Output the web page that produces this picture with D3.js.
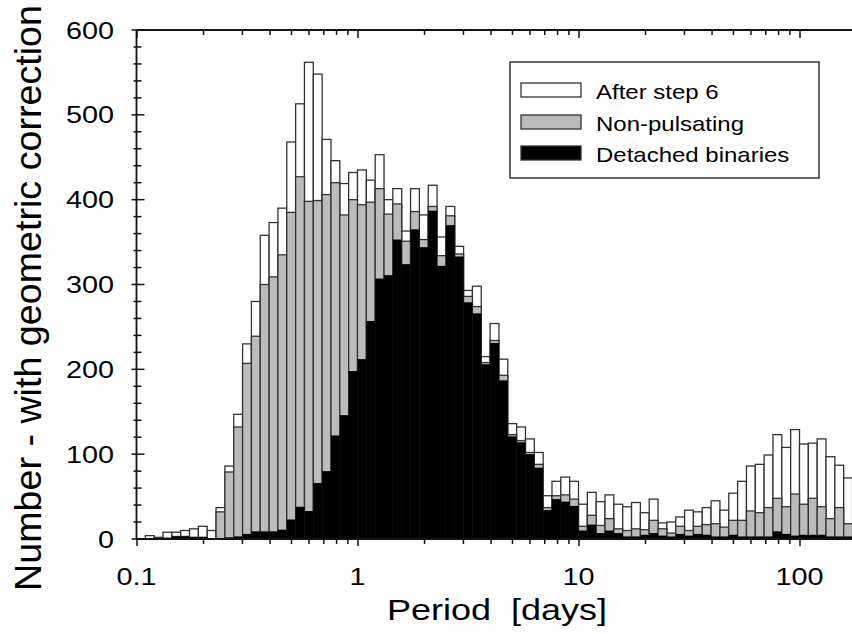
<!DOCTYPE html>
<html>
<head>
<meta charset="utf-8">
<script src="https://cdn.jsdelivr.net/npm/d3@7"></script>
<style>
  html, body { margin: 0; padding: 0; background: #fff; }
  svg { display: block; font-family: "Liberation Sans", Arial, sans-serif; }
  text { white-space: pre; }
</style>
</head>
<body>
<svg id="chart" width="852" height="634"></svg>
<script>
// Period histogram, equal bins in log(P): 25 per decade starting at 0.1 d
const logStart = -1;
const binsPerDecade = 25;

// counts per bin
const afterStep6 = [
  0, 4, 2, 8, 8, 10, 12, 15, 10, 37,
  86, 147, 230, 280, 358, 373, 390, 468, 513, 562,
  548, 471, 446, 419, 432, 435, 423, 453, 400, 413,
  363, 413, 382, 417, 356, 392, 345, 293, 298, 215,
  254, 212, 136, 132, 118, 102, 51, 68, 73, 68,
  41, 55, 44, 52, 41, 38, 43, 31, 47, 19,
  20, 26, 34, 32, 37, 45, 34, 54, 68, 86,
  88, 99, 123, 108, 129, 112, 113, 118, 97, 87, 72
];
const nonPulsating = [
  0, 0, 0, 1, 3, 3, 2, 2, 0, 32,
  79, 132, 207, 239, 300, 309, 335, 385, 427, 398,
  399, 406, 420, 382, 400, 394, 397, 413, 383, 395,
  351, 386, 353, 392, 334, 381, 336, 286, 274, 208,
  234, 193, 123, 116, 102, 88, 37, 51, 52, 47,
  15, 28, 16, 24, 12, 10, 12, 11, 22, 12,
  7, 15, 10, 15, 17, 18, 14, 22, 22, 33,
  31, 37, 48, 38, 53, 41, 48, 38, 24, 37, 18
];
const detachedBinaries = [
  0, 0, 0, 1, 3, 3, 2, 2, 0, 0,
  2, 3, 6, 9, 9, 9, 11, 23, 38, 33,
  66, 80, 122, 146, 198, 212, 257, 307, 311, 353,
  324, 365, 344, 387, 322, 370, 333, 279, 266, 206,
  231, 187, 121, 114, 100, 84, 34, 47, 44, 39,
  10, 17, 7, 10, 7, 3, 3, 5, 7, 4,
  3, 6, 4, 6, 5, 3, 3, 5, 3, 3,
  3, 3, 9, 6, 4, 5, 5, 5, 3, 3, 3
];

const xTickValues = [0.1, 1, 10, 100];
const xTickLabels = ['0.1', '1', '10', '100'];
const yTickValues = [0, 100, 200, 300, 400, 500, 600];

const series = [
  { name: 'After step 6', values: afterStep6, fill: '#ffffff' },
  { name: 'Non-pulsating', values: nonPulsating, fill: '#bbbbbb' },
  { name: 'Detached binaries', values: detachedBinaries, fill: '#000000' }
];

const svg = d3.select('#chart');
const W = 852, H = 634;
const plotLeft = 136.5, plotTop = 30, plotBottom = 539;
const decade = 221;
const stretch = 1.2; // the lettering in the figure is drawn wide

svg.append('rect').attr('width', W).attr('height', H).attr('fill', '#fff');

const x = d3.scaleLog().domain([0.1, 1000]).range([plotLeft, plotLeft + 4 * decade]);
const y = d3.scaleLinear().domain([0, 600]).range([plotBottom, plotTop]);

const binLo = i => Math.pow(10, logStart + i / binsPerDecade);
const binHi = i => Math.pow(10, logStart + (i + 1) / binsPerDecade);

// bars, overlapped from the baseline: total, then subsets on top
series.forEach((s, si) => {
  svg.append('g')
    .selectAll('rect')
    .data(s.values)
    .join('rect')
    .attr('x', (d, i) => x(binLo(i)))
    .attr('width', (d, i) => x(binHi(i)) - x(binLo(i)))
    .attr('y', d => y(d))
    .attr('height', d => y(0) - y(d))
    .attr('fill', s.fill)
    .attr('stroke', si === 2 ? 'none' : '#333')
    .attr('stroke-width', 1.3)
    .attr('display', d => d > 0 ? null : 'none');
});

// minor tick positions within the visible range
const minorX = [];
for (let e = -1; e <= 2; e++) {
  for (let m = 2; m <= 9; m++) {
    const v = m * Math.pow(10, e);
    if (v <= 200) minorX.push(v);
  }
}

const axisColor = '#111';

// bottom axis: outward ticks
const gb = svg.append('g').attr('transform', `translate(0,${plotBottom})`);
gb.append('g').call(d3.axisBottom(x).tickValues(minorX).tickSize(5).tickFormat(''));
gb.append('g').call(d3.axisBottom(x).tickValues(xTickValues).tickSize(7).tickFormat(''));
gb.selectAll('.domain').remove();
gb.selectAll('line').attr('stroke', axisColor).attr('stroke-width', 1.5);
svg.append('line').attr('x1', plotLeft).attr('x2', W).attr('y1', plotBottom).attr('y2', plotBottom)
  .attr('stroke', axisColor).attr('stroke-width', 1.8);

// x tick labels
svg.append('g').selectAll('text')
  .data(xTickValues)
  .join('text')
  .attr('transform', d => `translate(${x(d)},584.5) scale(${stretch},1)`)
  .attr('text-anchor', 'middle')
  .attr('font-size', 24)
  .attr('fill', '#000')
  .text((d, i) => xTickLabels[i]);

// top axis: inward ticks
const gt = svg.append('g').attr('transform', `translate(0,${plotTop})`);
gt.append('g').call(d3.axisBottom(x).tickValues(minorX).tickSize(5).tickFormat(''));
gt.append('g').call(d3.axisBottom(x).tickValues(xTickValues).tickSize(8).tickFormat(''));
gt.selectAll('.domain').remove();
gt.selectAll('line').attr('stroke', axisColor).attr('stroke-width', 1.5);
svg.append('line').attr('x1', plotLeft).attr('x2', W).attr('y1', plotTop).attr('y2', plotTop)
  .attr('stroke', axisColor).attr('stroke-width', 1.8);

// left axis: ticks crossing the line
const minorY = d3.range(0, 601, 20).filter(v => v % 100 !== 0);
const gl = svg.append('g');
gl.selectAll('line.minor')
  .data(minorY)
  .join('line')
  .attr('class', 'minor')
  .attr('x1', plotLeft - 3).attr('x2', plotLeft + 5)
  .attr('y1', d => y(d)).attr('y2', d => y(d));
gl.selectAll('line.major')
  .data(yTickValues)
  .join('line')
  .attr('class', 'major')
  .attr('x1', plotLeft - 5).attr('x2', plotLeft + 8)
  .attr('y1', d => y(d)).attr('y2', d => y(d));
gl.selectAll('line').attr('stroke', axisColor).attr('stroke-width', 1.5);
svg.append('line').attr('x1', plotLeft).attr('x2', plotLeft).attr('y1', plotTop).attr('y2', plotBottom)
  .attr('stroke', axisColor).attr('stroke-width', 1.8);

svg.append('g').selectAll('text')
  .data(yTickValues)
  .join('text')
  .attr('transform', d => `translate(114,${y(d) + 8.6}) scale(${stretch},1)`)
  .attr('text-anchor', 'end')
  .attr('font-size', 24)
  .attr('fill', '#000')
  .text(d => d);

// axis titles
svg.append('text')
  .attr('transform', `translate(497,620) scale(${stretch},1)`)
  .attr('text-anchor', 'middle')
  .attr('font-size', 30)
  .attr('fill', '#000')
  .text('Period  [days]');

svg.append('text')
  .attr('transform', `translate(41,298) rotate(-90) scale(1,${stretch})`)
  .attr('text-anchor', 'middle')
  .attr('font-size', 31)
  .attr('textLength', 586)
  .attr('lengthAdjust', 'spacingAndGlyphs')
  .attr('fill', '#000')
  .text('Number - with geometric correction');

// legend
const legend = svg.append('g');
legend.append('rect')
  .attr('x', 510).attr('y', 62).attr('width', 309).attr('height', 116)
  .attr('fill', '#fff').attr('stroke', '#333').attr('stroke-width', 1.5);
const rowY = [83, 115, 146];
const rows = legend.selectAll('g.row')
  .data(series)
  .join('g')
  .attr('class', 'row')
  .attr('transform', (d, i) => `translate(0,${rowY[i]})`);
rows.append('rect')
  .attr('x', 521).attr('width', 60).attr('height', 14)
  .attr('fill', d => d.fill).attr('stroke', '#333').attr('stroke-width', 1.3);
rows.append('text')
  .attr('transform', `translate(596,16) scale(${stretch},1)`)
  .attr('font-size', 20)
  .attr('fill', '#000')
  .text(d => d.name);
</script>
</body>
</html>
